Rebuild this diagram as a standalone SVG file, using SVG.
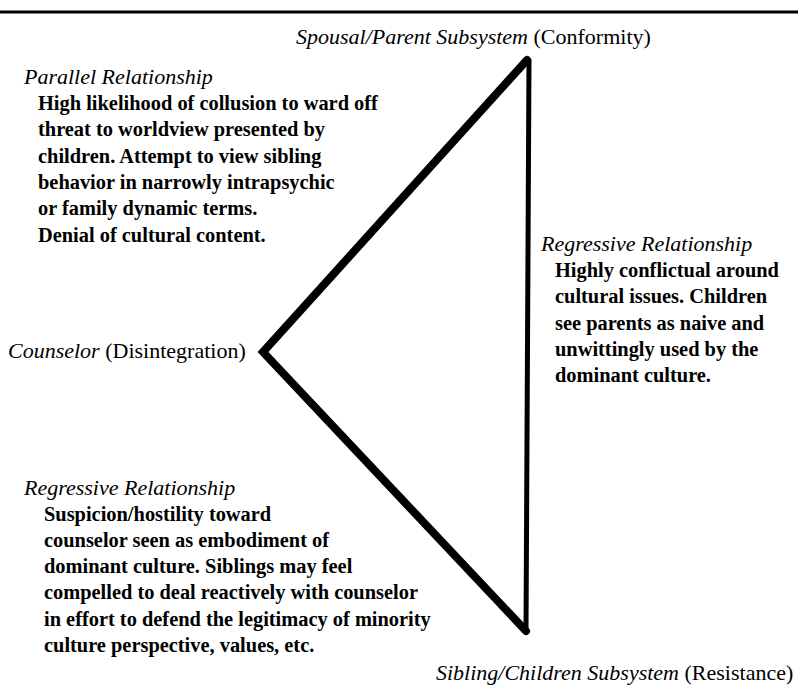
<svg xmlns="http://www.w3.org/2000/svg" width="798" height="688" viewBox="0 0 798 688">
<style>
text{font-family:"Liberation Serif","Times New Roman",serif;fill:#000}
.lab{font-size:22px}
.it{font-style:italic}
.body{font-size:20.4px;font-weight:bold}
.ttl{font-size:22px;font-style:italic}
.edge{stroke:#000;fill:none;stroke-linecap:round;stroke-linejoin:miter}
</style>
<rect width="798" height="688" fill="#fff"/>
<line x1="0" y1="12" x2="798" y2="12" stroke="#000" stroke-width="3"/>
<g id="connectors">
<path class="edge" d="M527 60 L263 352 L526 631" stroke-width="8"/>
<path class="edge" d="M529 60 L526 631" stroke-width="5"/>
</g>
<g id="node-parent"><text class="lab" x="296" y="44"><tspan class="it">Spousal/Parent Subsystem</tspan> (Conformity)</text></g>
<g id="node-counselor"><text class="lab" x="8" y="358"><tspan class="it">Counselor</tspan> (Disintegration)</text></g>
<g id="node-children"><text class="lab" x="436" y="680"><tspan class="it">Sibling/Children Subsystem</tspan> (Resistance)</text></g>
<g id="note-parallel">
<text class="ttl" x="24" y="84">Parallel Relationship</text>
<text class="body" x="38" y="110">High likelihood of collusion to ward off</text>
<text class="body" x="38" y="136">threat to worldview presented by</text>
<text class="body" x="38" y="163">children. Attempt to view sibling</text>
<text class="body" x="38" y="189">behavior in narrowly intrapsychic</text>
<text class="body" x="38" y="215">or family dynamic terms.</text>
<text class="body" x="38" y="242">Denial of cultural content.</text>
</g>
<g id="note-regressive-right">
<text class="ttl" x="541" y="251">Regressive Relationship</text>
<text class="body" x="555" y="277">Highly conflictual around</text>
<text class="body" x="555" y="303">cultural issues. Children</text>
<text class="body" x="555" y="330">see parents as naive and</text>
<text class="body" x="555" y="356">unwittingly used by the</text>
<text class="body" x="555" y="382">dominant culture.</text>
</g>
<g id="note-regressive-left">
<text class="ttl" x="24" y="495">Regressive Relationship</text>
<text class="body" x="44" y="521">Suspicion/hostility toward</text>
<text class="body" x="44" y="547">counselor seen as embodiment of</text>
<text class="body" x="44" y="573">dominant culture. Siblings may feel</text>
<text class="body" x="44" y="599">compelled to deal reactively with counselor</text>
<text class="body" x="44" y="626">in effort to defend the legitimacy of minority</text>
<text class="body" x="44" y="652">culture perspective, values, etc.</text>
</g>
</svg>
